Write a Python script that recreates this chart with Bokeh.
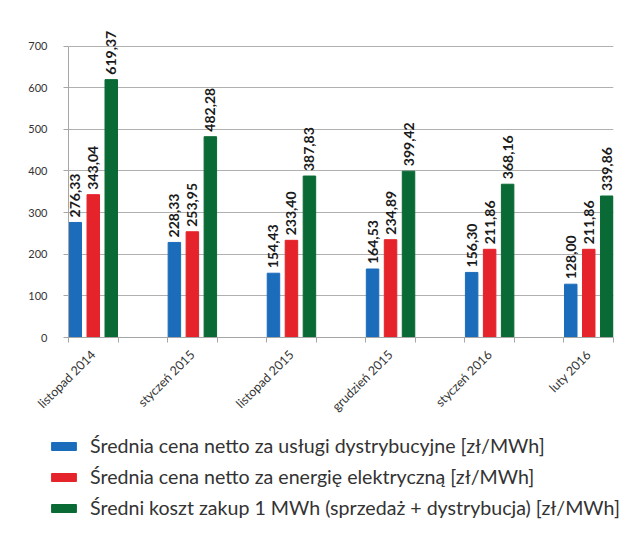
from math import pi
from bokeh.plotting import figure
from bokeh.layouts import column
from bokeh.models import ColumnDataSource, FixedTicker, Legend, LegendItem, Range1d
from bokeh.transform import dodge
from bokeh.core.properties import value
from bokeh.embed import file_html
from bokeh.resources import INLINE

categories = ["listopad 2014", "styczeń 2015", "listopad 2015",
              "grudzień 2015", "styczeń 2016", "luty 2016"]
dystrybucja = [276.33, 228.33, 154.43, 164.53, 156.30, 128.00]
energia = [343.04, 253.95, 233.40, 234.89, 211.86, 211.86]
koszt = [619.37, 482.28, 387.83, 399.42, 368.16, 339.86]
series_names = [
    "Średnia cena netto za usługi dystrybucyjne [zł/MWh]",
    "Średnia cena netto za energię elektryczną [zł/MWh]",
    "Średni koszt zakup 1 MWh (sprzedaż + dystrybucja) [zł/MWh]",
]
colors = ["#1b6dbb", "#e4232a", "#0a6a35"]
y_ticks = [0, 100, 200, 300, 400, 500, 600, 700]

FONT = "Lato"

# each category occupies one slot, with an empty slot between categories
x_centers = [2 * i + 0.5 for i in range(len(categories))]
slot_edges = list(range(0, 2 * len(categories)))


def fmt(v):
    return f"{v:.2f}".replace(".", ",")


source = ColumnDataSource(dict(
    x=x_centers,
    d=dystrybucja, e=energia, k=koszt,
    dl=[fmt(v) for v in dystrybucja],
    el=[fmt(v) for v in energia],
    kl=[fmt(v) for v in koszt],
))

p = figure(frame_width=545, frame_height=311,
           x_range=Range1d(0, 2 * len(categories) - 1),
           y_range=Range1d(0, 747),
           output_backend="svg", toolbar_location=None,
           min_border_left=68, min_border_right=28,
           min_border_top=26, min_border_bottom=92)
p.frame_align = False
p.outline_line_color = None
p.background_fill_color = "white"
p.border_fill_color = "white"

offsets = [-0.363, 0.0, 0.363]
fields = [("d", "dl"), ("e", "el"), ("k", "kl")]
for (f, lab), off, col in zip(fields, offsets, colors):
    p.vbar(x=dodge("x", off), top=f, width=0.252, color=col, source=source)
    p.text(x=dodge("x", off), y=f, text=lab, angle=pi / 2,
           text_align="left", text_baseline="middle", y_offset=-5,
           text_font=value(FONT), text_font_style="bold",
           text_font_size="14px", text_color="#1a1a1a", source=source)

# y axis
p.yaxis.ticker = FixedTicker(ticks=y_ticks)
p.yaxis.bounds = (0, 700)
p.yaxis.axis_line_color = "#a6a6a6"
p.yaxis.major_tick_line_color = "#a6a6a6"
p.yaxis.major_tick_out = 5
p.yaxis.major_tick_in = 0
p.yaxis.minor_tick_line_color = None
p.yaxis.major_label_text_font = FONT
p.yaxis.major_label_text_font_size = "11px"
p.yaxis.major_label_text_color = "#333333"
p.yaxis.major_label_standoff = 16

# x axis: tick marks at slot edges, labels at category centres
p.xaxis.ticker = FixedTicker(ticks=x_centers, minor_ticks=slot_edges)
p.xaxis.major_label_overrides = {xc: c for xc, c in zip(x_centers, categories)}
p.xaxis.major_label_orientation = pi / 4
p.xaxis.major_label_text_align = "right"
p.xaxis.major_label_text_baseline = "top"
p.xaxis.axis_line_color = "#a6a6a6"
p.xaxis.major_tick_line_color = None
p.xaxis.major_tick_out = 0
p.xaxis.major_tick_in = 0
p.xaxis.minor_tick_line_color = "#a6a6a6"
p.xaxis.minor_tick_out = 5
p.xaxis.minor_tick_in = 0
p.xaxis.major_label_text_font = FONT
p.xaxis.major_label_text_font_size = "12.5px"
p.xaxis.major_label_text_color = "#333333"
p.xaxis.major_label_standoff = 10

p.xgrid.grid_line_color = None
p.ygrid.grid_line_color = "#b0b0b0"
p.ygrid.ticker = FixedTicker(ticks=y_ticks)

# legend panel
lg = figure(width=641, height=104, x_range=Range1d(0, 1), y_range=Range1d(0, 1),
            output_backend="svg", toolbar_location=None,
            x_axis_type=None, y_axis_type=None,
            min_border_left=0, min_border_right=0,
            min_border_top=0, min_border_bottom=0)
lg.frame_align = False
lg.outline_line_color = None
lg.grid.grid_line_color = None
legend_src = ColumnDataSource(dict(x=[-5], top=[-5]))
proxies = [lg.vbar(x="x", top="top", width=0.1, color=c, source=legend_src)
           for c in colors]
legend = Legend(
    items=[LegendItem(label=n, renderers=[r]) for n, r in zip(series_names, proxies)],
    location=(48, 14),
    glyph_width=31, glyph_height=10, label_standoff=11,
    spacing=8, label_height=20, padding=0, margin=0,
    border_line_color=None, background_fill_alpha=0,
    label_text_font=FONT, label_text_font_size="19.6px",
    label_text_color="#333333",
)
lg.add_layout(legend)

layout = column(p, lg, spacing=0)
open("out.html", "w").write(file_html(layout, INLINE))
